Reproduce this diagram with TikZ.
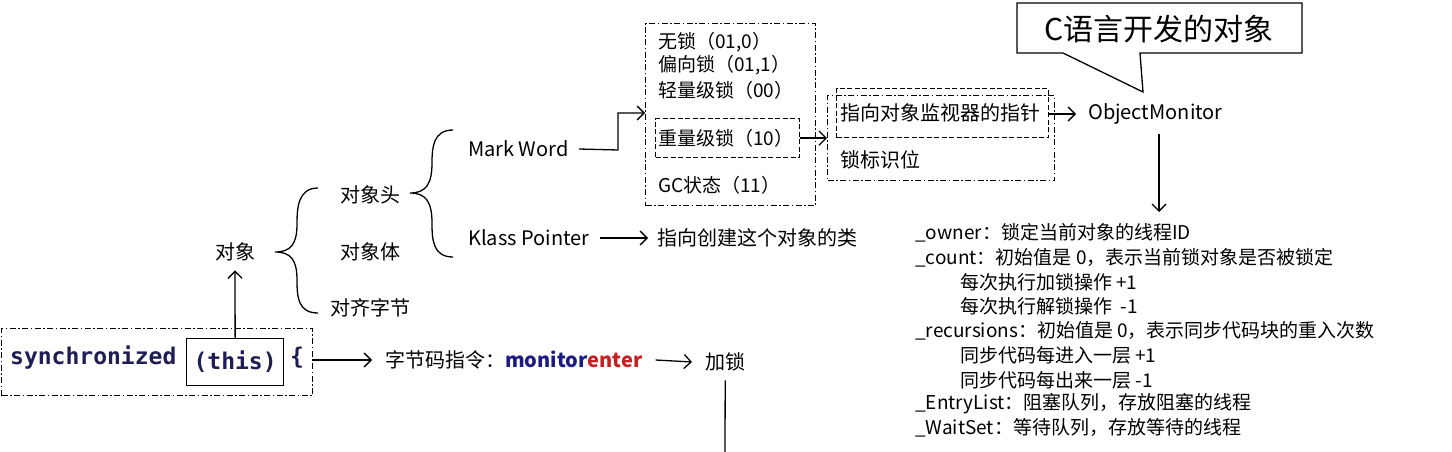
\documentclass[tikz,border=0pt]{standalone}
\usepackage{fontspec}
\setmainfont{Noto Sans CJK SC}
\newfontfamily\codefont{DejaVu Sans Mono}
\usetikzlibrary{arrows.meta,calc}
\definecolor{codenavy}{HTML}{1E1E55}
\definecolor{monblue}{HTML}{1C1C80}
\definecolor{monred}{HTML}{C42222}
\begin{document}
\begin{tikzpicture}[x=1pt,y=-1pt,
  font=\fontsize{20}{24}\selectfont,
  lbl/.style={anchor=west,inner sep=0pt},
  ctr/.style={inner sep=0pt},
  sm/.style={font=\fontsize{19}{23}\selectfont},
  arr/.style={-{Straight Barb[length=7pt,width=14pt]}, line width=1.3pt},
  ln/.style={line width=1.3pt},
  ddbox/.style={draw, line width=1.2pt, dash pattern=on 6pt off 2.5pt on 1.5pt off 2.5pt, anchor=north west, inner sep=0pt},
  dbox/.style={draw, line width=1.2pt, dash pattern=on 5pt off 2.5pt, anchor=north west, inner sep=0pt},
  sbox/.style={draw, line width=1.3pt, anchor=north west, inner sep=0pt}]
\useasboundingbox (0,0) rectangle (1452,452);
\fill[white] (0,0) rectangle (1452,452);

% synchronized line
\node[ddbox, minimum width=311pt, minimum height=67pt] (syncbox) at (1,328) {};
\node[lbl, text=codenavy, font=\codefont\bfseries\fontsize{23}{26}\selectfont] (sync) at (10,358) {synchronized};
\node[sbox, minimum width=97pt, minimum height=47pt] (thisbox) at (186,338) {};
\node[ctr, text=codenavy, font=\codefont\bfseries\fontsize{23}{26}\selectfont] (this) at (thisbox.center) {(this)};
\node[ctr, text=codenavy, font=\codefont\bfseries\fontsize{23}{26}\selectfont] (brace) at (297,358) {\{};
\node[lbl] (bc) at (385,360) {字节码指令：\textbf{\textcolor{monblue}{monitor}\textcolor{monred}{enter}}};
\node[lbl] (lock) at (705,362) {加锁};
\coordinate (bot) at (725,452);
\draw[arr] (syncbox.east |- bc.west) -- ([xshift=-13pt]bc.west);
\draw[arr] ([xshift=13pt]bc.east) -- ([xshift=-13pt]lock.west);
\draw[ln] ([yshift=-9pt]lock.south) -- (bot);

% object tree
\node[ctr] (obj) at (235,252) {对象};
\draw[arr] (thisbox.north) -- ([yshift=-9pt]obj.south);
\node[ctr] (head) at (370,195) {对象头};
\node[ctr] (body) at (370,252) {对象体};
\node[ctr] (pad) at (370,308) {对齐字节};
\draw[ln] (318,188) .. controls (298,188) and (297,208) .. (297,224)
  .. controls (297,244) and (291,252) .. (275,252)
  .. controls (291,252) and (297,260) .. (297,280)
  .. controls (297,297) and (298,313) .. (318,313);
\node[lbl] (mw) at (468,149) {Mark Word};
\node[lbl] (kp) at (468,238) {Klass Pointer};
\draw[ln] (453,130) .. controls (433,130) and (432,148) .. (432,163)
  .. controls (432,184) and (426,193) .. (410,193)
  .. controls (426,193) and (432,202) .. (432,223)
  .. controls (432,240) and (433,257) .. (453,257);
\node[lbl] (cls) at (657,238) {指向创建这个对象的类};
\draw[arr] ([xshift=11pt]kp.east) -- ([xshift=-9pt]cls.west);

% lock state box
\node[ddbox, minimum width=170pt, minimum height=182pt] (states) at (645,23) {};
\node[lbl, sm] (s1) at (658,42) {无锁（01,0）};
\node[lbl, sm] (s2) at (658,65) {偏向锁（01,1）};
\node[lbl, sm] (s3) at (658,90) {轻量级锁（00）};
\node[dbox, minimum width=144pt, minimum height=39pt] (heavybox) at (655,118) {};
\node[lbl, sm] (s4) at (658,138) {重量级锁（10）};
\node[lbl, sm] (s5) at (658,185) {GC状态（11）};
\coordinate (mwin) at (645,113);
\draw[ln, -{Straight Barb[length=7pt,width=14pt]}] ([xshift=10pt]mw.east) -- (618,150) |- (mwin);

% pointer box
\node[ddbox, minimum width=227pt, minimum height=85pt] (ptrouter) at (827,95) {};
\node[dbox, minimum width=212pt, minimum height=49pt] (ptrbox) at (836,88) {};
\node[lbl] (ptr) at (840,113) {指向对象监视器的指针};
\node[lbl] (flag) at (840,160) {锁标识位};
\draw[arr] (heavybox.east) -- (ptrouter.west |- heavybox.east);
\node[lbl] (om) at (1088,114) {ObjectMonitor};
\draw[arr] (ptrbox.east |- om.west) -- ([xshift=-12pt]om.west);

% callout
\draw[line width=1.3pt, fill=white] (1017,3) -- (1302,3) -- (1302,53) -- (1140,53) -- (1143,92) -- (1063,53) -- (1017,53) -- cycle;
\node[ctr, font=\fontsize{30}{34}\selectfont] (callout) at (1159,29) {C语言开发的对象};

% ObjectMonitor fields
\coordinate (lt) at (1159,212);
\draw[arr] ([yshift=-9pt]om.south -| lt) -- (lt);
\node[lbl, sm] (f1) at (915,233) {\_owner：锁定当前对象的线程ID};
\node[lbl, sm] (f2) at (915,258) {\_count：初始值是 0，表示当前锁对象是否被锁定};
\node[lbl, sm] (f3) at (960,282) {每次执行加锁操作 +1};
\node[lbl, sm] (f4) at (960,306) {每次执行解锁操作 \ -1};
\node[lbl, sm] (f5) at (915,331) {\_recursions：初始值是 0，表示同步代码块的重入次数};
\node[lbl, sm] (f6) at (960,355) {同步代码每进入一层 +1};
\node[lbl, sm] (f7) at (960,380) {同步代码每出来一层 -1};
\node[lbl, sm] (f8) at (915,404) {\_EntryList：阻塞队列，存放阻塞的线程};
\node[lbl, sm] (f9) at (915,428) {\_WaitSet：等待队列，存放等待的线程};
\end{tikzpicture}
\end{document}
